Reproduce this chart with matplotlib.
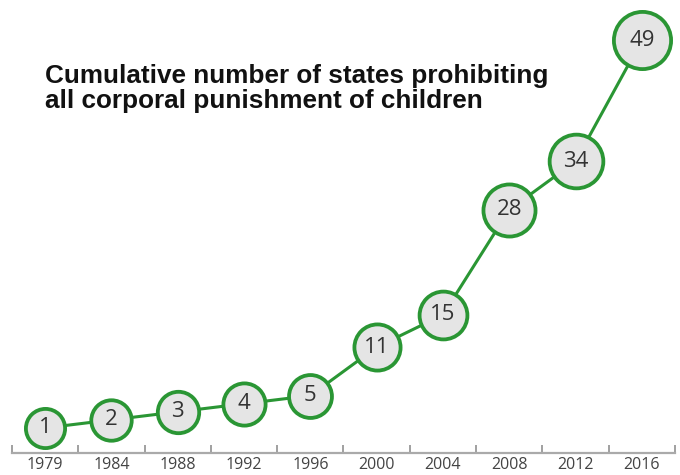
import matplotlib
matplotlib.use("Agg")
import matplotlib.pyplot as plt
import numpy as np

years = ["1979", "1984", "1988", "1992", "1996", "2000", "2004", "2008", "2012", "2016"]
states = [1, 2, 3, 4, 5, 11, 15, 28, 34, 49]

green = "#2a9634"
fill = "#e5e5e5"

fig = plt.figure(figsize=(6.8, 4.75), dpi=100)
ax = fig.add_axes([12 / 680, 22 / 475, 663 / 680, 453 / 475])

x = list(range(len(years)))
ax.plot(x, states, color=green, lw=2.2, zorder=2, clip_on=False)

# circles grow a little with the count (outer diameter in px -> points)
mew_px = 3.8
for xi, v in zip(x, states):
    d_px = 40 + 3.0 * np.sqrt(v)
    ax.plot(xi, v, "o", ms=(d_px - mew_px) * 0.72, mfc=fill, mec=green,
            mew=mew_px * 0.72, zorder=3, clip_on=False)
    ax.text(xi, v, str(v), ha="center", va="center", fontsize=16,
            family="Open Sans", color="#333333", zorder=4)

ax.set_xlim(-0.5, len(years) - 0.5)
ax.set_ylim(-2.1, 53.97)

# boundary ticks (unlabelled) and centred year labels
ax.set_xticks([i - 0.5 for i in range(len(years) + 1)])
ax.set_xticklabels([])
ax.set_xticks(x, minor=True)
ax.set_xticklabels(years, minor=True, family="Open Sans", fontsize=11.5, color="#444444")
ax.tick_params(axis="x", which="major", direction="in", length=6, width=1.3, color="#999999")
ax.tick_params(axis="x", which="minor", length=0, pad=3)
ax.set_yticks([])

for s in ["top", "right", "left"]:
    ax.spines[s].set_visible(False)
ax.spines["bottom"].set_color("#aaaaaa")
ax.spines["bottom"].set_linewidth(1.6)
ax.patch.set_alpha(0)

title_lines = ["Cumulative number of states prohibiting", "all corporal punishment of children"]
for i, line in enumerate(title_lines):
    fig.text(45 / 680, 1 - (83 + 25 * i) / 475, line,
             family="Liberation Sans", fontweight="bold", fontsize=18.8, color="#111111",
             va="baseline", ha="left")

fig.savefig("out.png", dpi=100)
